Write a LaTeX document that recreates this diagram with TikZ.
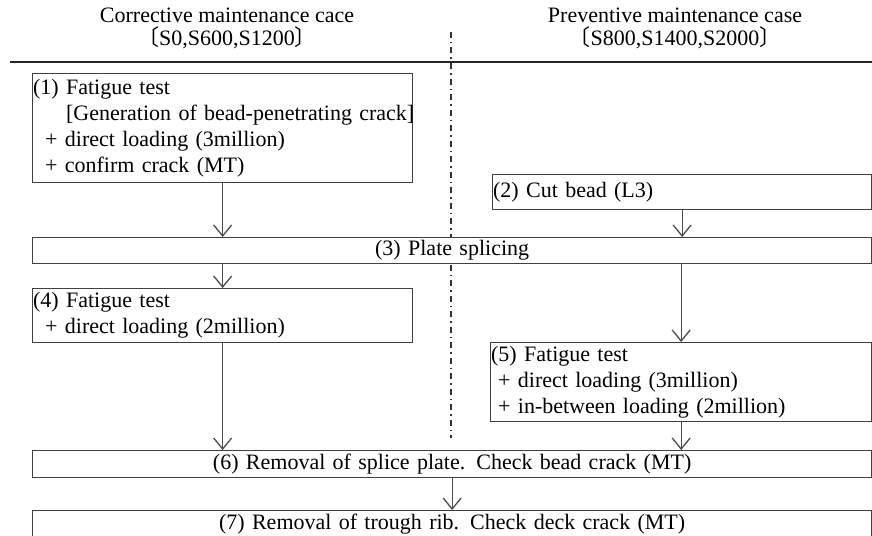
\documentclass[tikz,border=0pt]{standalone}
\usepackage{fontspec}
\setmainfont{Liberation Serif}
\newfontfamily\cjkfont{Noto Sans CJK JP}
\usetikzlibrary{arrows.meta,positioning}

\begin{document}
\begin{tikzpicture}[
  x=1pt, y=1pt,
  font=\fontsize{22}{26}\selectfont,
  >={Straight Barb[length=11pt,width=18pt]},
  box/.style={draw=black!75, line width=1.3pt, fill=white, anchor=north west,
              inner xsep=0.5pt, inner ysep=0pt, align=left},
  wide/.style={box, align=center, text width=838pt},
  head/.style={inner sep=0pt, text height=15pt, text depth=4pt},
  arr/.style={->, draw=black!70, line width=1.3pt},
  divide/.style={draw=black!80, line width=1.4pt,
                 dash pattern=on 6pt off 4pt on 1.5pt off 4pt},
  node distance=3pt]
\useasboundingbox (0,0) rectangle (872,-535);
\clip (0,0) rectangle (872,-535);
% headings of the two cases
\node[head] (hleft) at (227,-17.5) {Corrective maintenance cace};
\node[head, below=of hleft] (hleftset) {{\cjkfont 〔}S0,S600,S1200{\cjkfont 〕}};
\node[head] (hright) at (675,-17.5) {Preventive maintenance case};
\node[head, below=of hright] (hrightset) {{\cjkfont 〔}S800,S1400,S2000{\cjkfont 〕}};
\coordinate (ruleL) at (10,-62);
\coordinate (ruleR) at (872,-62);
\coordinate (divtop) at (451,-32);
\coordinate (divbot) at (451,-438);
\draw[line width=2.4pt, black!85] (ruleL) -- (ruleR);
\draw[divide] (divtop) -- (divbot);
% steps
\node[box, text width=379pt, minimum height=109pt] (b1) at (32,-73)
  {(1) Fatigue test\\
   \hspace*{33pt}\mbox{[Generation of bead-penetrating crack]}\\
   \hspace*{12pt}+ direct loading (3million)\\
   \hspace*{12pt}+ confirm crack (MT)};
\node[box, text width=378pt, minimum height=35pt] (b2) at (492,-174) {(2) Cut bead (L3)};
\node[wide, minimum height=26pt] (b3) at (32,-237) {(3) Plate splicing};
\node[box, text width=379pt, minimum height=54pt] (b4) at (32,-288)
  {(4) Fatigue test\\
   \hspace*{12pt}+ direct loading (2million)};
\node[box, text width=380pt, minimum height=79pt] (b5) at (490,-342)
  {(5) Fatigue test\\
   \hspace*{7pt}+ direct loading (3million)\\
   \hspace*{7pt}+ in-between loading (2million)};
\node[wide, minimum height=27pt] (b6) at (32,-450) {(6) Removal of splice plate. Check bead crack (MT)};
\node[wide, minimum height=27pt] (b7) at (32,-510) {(7) Removal of trough rib. Check deck crack (MT)};
% flow
\draw[arr] (b1.south) -- (b1.south |- b3.north);
\draw[arr] (b2.south) -- (b2.south |- b3.north);
\draw[arr] (b4.north |- b3.south) -- (b4.north);
\draw[arr] (b5.north |- b3.south) -- (b5.north);
\draw[arr] (b4.south) -- (b4.south |- b6.north);
\draw[arr] (b5.south) -- (b5.south |- b6.north);
\draw[arr] (b6.south) -- (b7.north);
\end{tikzpicture}
\end{document}
